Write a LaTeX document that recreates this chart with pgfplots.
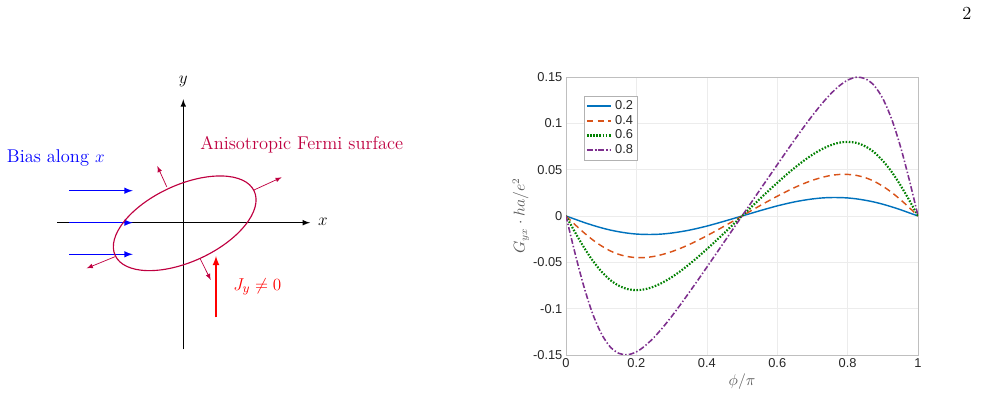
\documentclass[border=0pt]{standalone}
\usepackage{fontspec}
\setsansfont{Liberation Sans}
\usepackage{pgfplots}
\usepackage{pgfplotstable}
\pgfplotsset{compat=1.18}

\definecolor{mblue}{RGB}{0,114,189}
\definecolor{morange}{RGB}{217,83,25}
\definecolor{mgreen}{RGB}{0,128,0}
\definecolor{mpurple}{RGB}{126,47,142}
\definecolor{ticktext}{RGB}{38,38,38}
\definecolor{labeltext}{RGB}{90,90,90}

% phi/pi and G_yx*ha/e^2 for alpha = 0.2, 0.4, 0.6, 0.8
\pgfplotstableread{
phi    a02     a04     a06     a08
0      0       0       0       0
0.025 -0.0034 -0.0091 -0.0171 -0.0393
0.05  -0.0068 -0.0177 -0.0333 -0.0751
0.075 -0.0099 -0.0255 -0.0477 -0.1047
0.1   -0.0127 -0.0321 -0.0596 -0.1267
0.125 -0.0151 -0.0375 -0.0689 -0.1410
0.15  -0.0170 -0.0414 -0.0752 -0.1482
0.175 -0.0185 -0.0438 -0.0789 -0.1497
0.2   -0.0195 -0.0449 -0.0800 -0.1466
0.225 -0.0199 -0.0448 -0.0790 -0.1400
0.25  -0.0199 -0.0436 -0.0761 -0.1310
0.275 -0.0194 -0.0414 -0.0717 -0.1203
0.3   -0.0184 -0.0385 -0.0661 -0.1084
0.325 -0.0170 -0.0349 -0.0595 -0.0957
0.35  -0.0153 -0.0308 -0.0521 -0.0825
0.375 -0.0132 -0.0262 -0.0442 -0.0690
0.4   -0.0109 -0.0213 -0.0358 -0.0553
0.425 -0.0083 -0.0162 -0.0271 -0.0415
0.45  -0.0056 -0.0109 -0.0182 -0.0277
0.475 -0.0028 -0.0055 -0.0091 -0.0138
0.5    0       0       0       0
0.525  0.0028  0.0055  0.0091  0.0138
0.55   0.0056  0.0109  0.0182  0.0277
0.575  0.0083  0.0162  0.0271  0.0415
0.6    0.0109  0.0213  0.0358  0.0553
0.625  0.0132  0.0262  0.0442  0.0690
0.65   0.0153  0.0308  0.0521  0.0825
0.675  0.0170  0.0349  0.0595  0.0957
0.7    0.0184  0.0385  0.0661  0.1084
0.725  0.0194  0.0414  0.0717  0.1203
0.75   0.0199  0.0436  0.0761  0.1310
0.775  0.0199  0.0448  0.0790  0.1400
0.8    0.0195  0.0449  0.0800  0.1466
0.825  0.0185  0.0438  0.0789  0.1497
0.85   0.0170  0.0414  0.0752  0.1482
0.875  0.0151  0.0375  0.0689  0.1410
0.9    0.0127  0.0321  0.0596  0.1267
0.925  0.0099  0.0255  0.0477  0.1047
0.95   0.0068  0.0177  0.0333  0.0751
0.975  0.0034  0.0091  0.0171  0.0393
1      0       0       0       0
}\hallcurves

\begin{document}
\begin{tikzpicture}[x=0.7pt,y=0.7pt]
\path[use as bounding box] (0,0) rectangle (985,397);

% page number
\node at (967,384) {\fontsize{12.9}{15}\selectfont 2};

% ---- schematic: bias, Fermi surface and transverse current ----
\begin{scope}[font=\fontsize{12.9}{15}\selectfont]
  \draw[line width=0.8pt,-latex] (183.3,47.7) -- (183.3,297.7);
  \draw[line width=0.8pt,-latex] (57.3,174.3) -- (310,174.3);
  \node at (183.3,315.3) {$y$};
  \node at (323,175.5) {$x$};

  \foreach \yy in {206.3,174.3,142.7}
    \draw[blue,line width=1pt,-latex] (69.3,\yy) -- (132.7,\yy);
  \node[blue,anchor=west,inner sep=0pt] at (6.7,238.7) {Bias along $x$};

  \draw[purple,line width=0.8pt,rotate around={24.8:(184.7,173.7)}]
    (184.7,173.7) ellipse [x radius=76.6, y radius=38.3];
  \draw[purple,line width=0.5pt,-latex] (166.7,210.3) -- (157.3,231);
  \draw[purple,line width=0.5pt,-latex] (254,207) -- (281.7,219.7);
  \draw[purple,line width=0.5pt,-latex] (115,140.3) -- (86.7,128.7);
  \draw[purple,line width=0.5pt,-latex] (200,138.7) -- (210.7,117);
  \node[purple,anchor=west,inner sep=0pt] at (200,252) {Anisotropic Fermi surface};

  \draw[red,line width=1.2pt,-latex] (216,79.7) -- (216,141);
  \node[red,anchor=west,inner sep=0pt] at (233,110.3) {$J_y\neq 0$};
\end{scope}

% ---- Hall conductance versus angle ----
\begin{axis}[
  at={(396.2pt,29.4pt)}, anchor=south west,
  scale only axis, width=246.4pt, height=194.6pt,
  xmin=0, xmax=1, ymin=-0.15, ymax=0.15,
  xtick={0,0.2,0.4,0.6,0.8,1},
  xticklabels={0,0.2,0.4,0.6,0.8,1},
  ytick={-0.15,-0.1,-0.05,0,0.05,0.1,0.15},
  yticklabels={-0.15,-0.1,-0.05,0,0.05,0.1,0.15},
  tick style={draw=none},
  ticklabel style={font=\sffamily\fontsize{9}{10}\selectfont, text=ticktext},
  xticklabel style={yshift=1pt},
  yticklabel style={xshift=1pt},
  grid=major, major grid style={gray!15, line width=0.4pt},
  axis line style={gray!50, line width=0.5pt},
  xlabel={$\phi/\pi$}, ylabel={$G_{yx}\cdot ha/e^2$},
  label style={text=labeltext, font=\fontsize{10.5}{12}\selectfont},
  xlabel style={yshift=2.5pt},
  ylabel style={yshift=-4pt},
  legend style={at={(0.051,0.932)}, anchor=north west,
    draw=gray!60, line width=0.5pt, fill=white,
    font=\sffamily\fontsize{9}{9}\selectfont, text=ticktext,
    inner sep=1pt, row sep=-1.5pt},
  legend cell align=left,
  every axis plot/.append style={line width=1pt, smooth, no markers},
]
\addplot[mblue] table[x=phi,y=a02] {\hallcurves};
\addlegendentry{0.2}
\addplot[morange, dash pattern=on 4.5pt off 3pt] table[x=phi,y=a04] {\hallcurves};
\addlegendentry{0.4}
\addplot[mgreen, line width=1.5pt, dash pattern=on 1.1pt off 1.1pt] table[x=phi,y=a06] {\hallcurves};
\addlegendentry{0.6}
\addplot[mpurple, line width=1.1pt, dash pattern=on 4pt off 1.5pt on 1pt off 1.5pt] table[x=phi,y=a08] {\hallcurves};
\addlegendentry{0.8}
\end{axis}
\end{tikzpicture}
\end{document}
